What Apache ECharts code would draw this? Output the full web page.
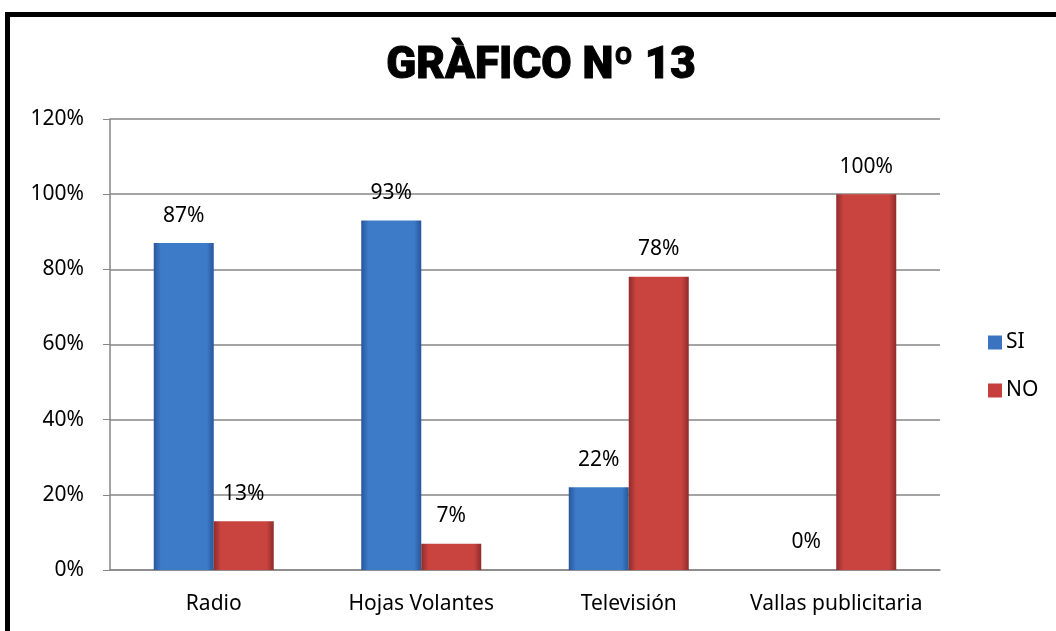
<!DOCTYPE html>
<html>
<head>
<meta charset="utf-8">
<script src="https://cdn.jsdelivr.net/npm/echarts@6/dist/echarts.min.js"></script>
<style>
  html, body { margin: 0; padding: 0; background: #fff; }
  #frame { position: absolute; left: 5px; top: 12px; width: 1060px; height: 640px;
           border-left: 5px solid #000; border-top: 5px solid #000; box-sizing: border-box; }
  #chart { position: absolute; left: 0; top: 0; width: 1056px; height: 631px; }
</style>
</head>
<body>
<div id="frame"></div>
<div id="chart"></div>
<script>
const categories = ['Radio', 'Hojas Volantes', 'Televisión', 'Vallas publicitaria'];
const siValues = [87, 93, 22, 0];
const noValues = [13, 7, 78, 100];
const yTicks = [0, 20, 40, 60, 80, 100, 120];

function barFill(edge, mid) {
  return new echarts.graphic.LinearGradient(0, 0, 1, 0, [
    { offset: 0, color: edge },
    { offset: 0.12, color: mid },
    { offset: 0.88, color: mid },
    { offset: 1, color: edge }
  ]);
}

const labelFont = { fontSize: 21, fontFamily: 'Noto Sans', color: '#000' };

let myChart = echarts.init(document.getElementById('chart'));
myChart.setOption({
  animation: false,
  title: {
    text: 'GRÀFICO Nº 13',
    left: 536, top: 40, textAlign: 'center',
    textStyle: { color: '#000', fontSize: 44, fontWeight: 900, fontFamily: 'Roboto',
                 textBorderColor: '#000', textBorderWidth: 1 }
  },
  grid: { left: 110, right: 116, top: 119, bottom: 61 },
  legend: {
    orient: 'vertical',
    left: 983, top: 327,
    itemGap: 27, itemWidth: 14, itemHeight: 14,
    textStyle: Object.assign({}, labelFont, { padding: [0, 0, 0, -1] }),
    data: [
      { name: 'SI', icon: 'rect', itemStyle: { color: '#3a74c0' } },
      { name: 'NO', icon: 'rect', itemStyle: { color: '#c63f3c' } }
    ]
  },
  xAxis: {
    type: 'category',
    data: categories,
    axisLine: { lineStyle: { color: '#868686', width: 1.5 } },
    axisTick: { show: false },
    axisLabel: Object.assign({ margin: 24, interval: 0 }, labelFont)
  },
  yAxis: {
    type: 'value',
    min: 0, max: 120, interval: 20,
    axisLine: { show: true, lineStyle: { color: '#868686', width: 1.5 } },
    axisTick: { show: true, length: 7, lineStyle: { color: '#868686' } },
    splitLine: { lineStyle: { color: '#868686', width: 1.5 } },
    axisLabel: Object.assign({ margin: 26, formatter: v => yTicks.includes(v) ? v + '%' : '' }, labelFont)
  },
  series: [
    {
      name: 'SI', type: 'bar', data: siValues,
      barWidth: 60, barGap: '0%',
      itemStyle: { color: barFill('#27579a', '#3d7bc9') },
      label: Object.assign({ show: true, position: 'top', distance: 17, formatter: '{c}%' }, labelFont)
    },
    {
      name: 'NO', type: 'bar', data: noValues,
      barWidth: 60,
      itemStyle: { color: barFill('#8e2c2a', '#c9433f') },
      label: Object.assign({ show: true, position: 'top', distance: 17, formatter: '{c}%' }, labelFont)
    }
  ]
});
</script>
</body>
</html>
